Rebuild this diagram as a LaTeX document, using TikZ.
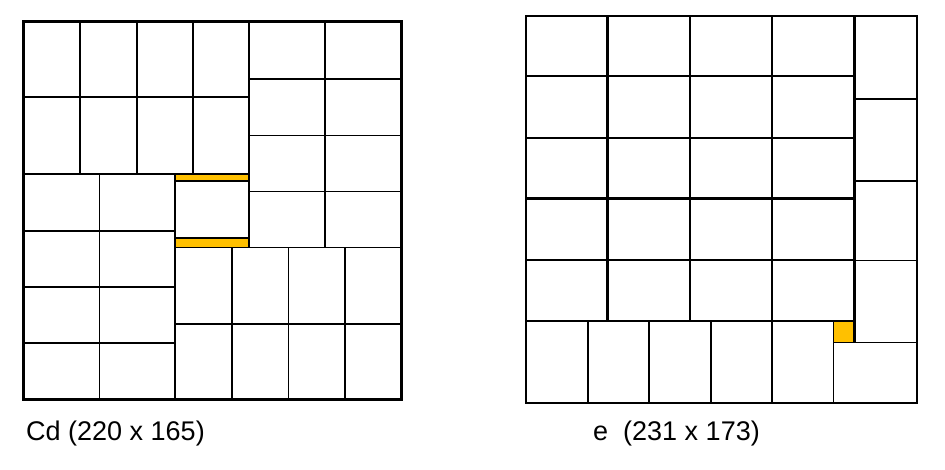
\documentclass[tikz,border=0pt]{standalone}
\usepackage{fontspec}
\setmainfont{Liberation Sans}
\definecolor{gold}{HTML}{FFC000}
\tikzset{
  cell/.style={draw=black, line width=1.7pt},
  heavy/.style={draw=black, line width=2.5pt},
  band/.style={fill=gold, draw=none},
  caption/.style={anchor=west, font=\fontsize{27}{32}\selectfont, inner sep=0pt}
}
\begin{document}
\begin{tikzpicture}[x=1pt, y=-1pt, line join=miter]
\useasboundingbox (0,0) rectangle (945,470);
% ---------- left diagram (Cd) ----------
\fill[band] (175,174.5) rectangle (249,181);
\fill[band] (175,238) rectangle (249,247.5);
% top-left block 4x2
\foreach \xa/\xb in {23/80,80/137,137/193,193/249}
  \foreach \ya/\yb in {22/97,97/174}
    \draw[cell] (\xa,\ya) rectangle (\xb,\yb);
% top-right block 2x4
\foreach \xa/\xb in {249/325,325/401}
  \foreach \ya/\yb in {22/79,79/135.5,135.5/191.5,191.5/247.5}
    \draw[cell] (\xa,\ya) rectangle (\xb,\yb);
% bottom-left block 2x4
\foreach \xa/\xb in {23/99.5,99.5/175}
  \foreach \ya/\yb in {174/231,231/287,287/343,343/399}
    \draw[cell] (\xa,\ya) rectangle (\xb,\yb);
% middle box
\draw[cell] (175,181) rectangle (249,238);
% bottom-right block 4x2
\foreach \xa/\xb in {175/232,232/288.5,288.5/345,345/401}
  \foreach \ya/\yb in {247.5/324,324/399}
    \draw[cell] (\xa,\ya) rectangle (\xb,\yb);
% heavier lines
\draw[heavy] (249,22) -- (249,247.5);
\draw[heavy] (175,247.5) -- (175,399);
\draw[heavy] (23,174) -- (175,174);
\draw[line width=3pt] (23,22) rectangle (401,399);
\node[caption] (capL) at (26,434) {Cd (220 x 165)};
% ---------- right diagram (e) ----------
\fill[band] (833.5,321) rectangle (854.5,342.5);
% main grid 4x5
\foreach \xa/\xb in {526/607.5,607.5/690,690/772,772/854.5}
  \foreach \ya/\yb in {16/76,76/138,138/198.5,198.5/260,260/321}
    \draw[cell] (\xa,\ya) rectangle (\xb,\yb);
% right column
\foreach \ya/\yb in {16/99,99/181,181/260.5,260.5/342.5}
  \draw[cell] (854.5,\ya) rectangle (917,\yb);
\draw[cell] (833.5,342.5) rectangle (917,403);
% bottom row
\foreach \xa/\xb in {526/588,588/649,649/711,711/772,772/833.5}
  \draw[cell] (\xa,321) rectangle (\xb,403);
% heavier lines
\draw[heavy] (607.5,16) -- (607.5,321);
\draw[heavy] (526,76) -- (854.5,76);
\draw[heavy] (526,198.5) -- (854.5,198.5);
\draw[heavy] (526,321) -- (833.5,321);
\draw[heavy] (854.5,16) -- (854.5,342.5);
\draw[heavy] (917,16) -- (917,403) -- (526,403);
\draw[cell] (526,16) -- (917,16);
\draw[cell] (526,16) -- (526,403);
\node[caption] (capR) at (593,434) {e\ \ (231 x 173)};
\end{tikzpicture}
\end{document}
